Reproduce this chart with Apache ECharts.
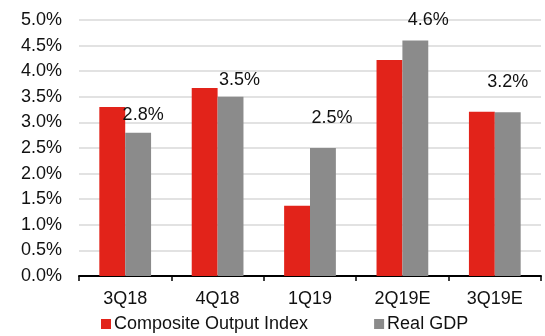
<!DOCTYPE html>
<html>
<head>
<meta charset="utf-8">
<script src="https://cdn.jsdelivr.net/npm/echarts@6/dist/echarts.min.js"></script>
<style>
  html, body { margin: 0; padding: 0; background: #fff; }
  #chart { width: 545px; height: 336px; }
</style>
</head>
<body>
<div id="chart"></div>
<script>
// Quarterly growth: composite output index vs real GDP
const quarters = ['3Q18', '4Q18', '1Q19', '2Q19E', '3Q19E'];
const compositeOutput = [3.30, 3.67, 1.37, 4.22, 3.21];
const realGdp = [2.8, 3.5, 2.5, 4.6, 3.2];
const yTicks = [0, 0.5, 1, 1.5, 2, 2.5, 3, 3.5, 4, 4.5, 5];

// Hand-placed value labels on the GDP bars
const gdpLabelOffsets = [[5, -4], [9, -3], [9, -16], [13, -6], [0, -16]];

const FONT = '"Liberation Sans", Arial, Helvetica, sans-serif';

const chart = echarts.init(document.getElementById('chart'), null, { renderer: 'canvas' });

chart.setOption({
  animation: false,
  textStyle: { fontFamily: FONT },
  grid: { left: 79, right: 4, top: 20, bottom: 60, containLabel: false },
  legend: {
    bottom: -2,
    left: 96,
    itemWidth: 10,
    itemHeight: 10,
    itemGap: 66,
    icon: 'rect',
    textStyle: { fontFamily: FONT, fontSize: 18, color: '#111', padding: [0, 0, 0, -2] },
    data: ['Composite Output Index', 'Real GDP']
  },
  xAxis: {
    type: 'category',
    data: quarters,
    axisLine: { lineStyle: { color: '#000', width: 2 } },
    axisTick: { show: true, length: 5, lineStyle: { color: '#000', width: 1.5 } },
    axisLabel: { color: '#111', fontSize: 18, margin: 14, fontFamily: FONT }
  },
  yAxis: {
    type: 'value',
    min: yTicks[0],
    max: yTicks[yTicks.length - 1],
    interval: 0.5,
    axisLine: { show: false },
    axisTick: { show: false },
    axisLabel: {
      color: '#111', fontSize: 18, margin: 17, fontFamily: FONT,
      formatter: v => v.toFixed(1) + '%'
    },
    splitLine: { lineStyle: { color: '#d9d9d9', width: 1.5 } }
  },
  series: [
    {
      name: 'Composite Output Index',
      type: 'bar',
      data: compositeOutput,
      barGap: '0%',
      barCategoryGap: '44%',
      itemStyle: { color: '#e2231a' }
    },
    {
      name: 'Real GDP',
      type: 'bar',
      data: realGdp.map((v, i) => ({
        value: v,
        label: { offset: gdpLabelOffsets[i] }
      })),
      itemStyle: { color: '#8b8b8b' },
      label: {
        show: true,
        position: 'top',
        color: '#111',
        fontSize: 18,
        fontFamily: FONT,
        formatter: p => p.value.toFixed(1) + '%'
      }
    }
  ]
});
</script>
</body>
</html>
